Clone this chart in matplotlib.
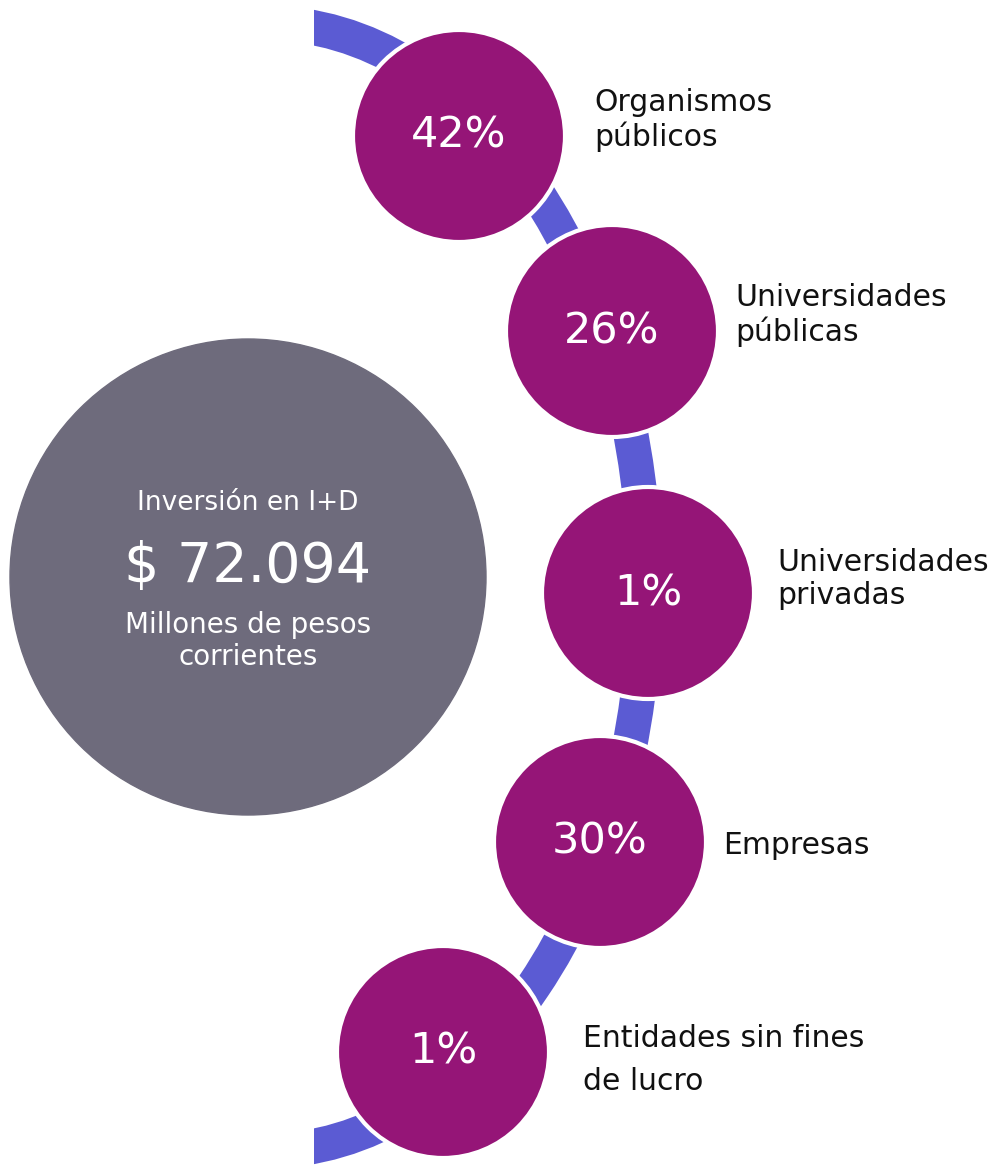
import matplotlib
matplotlib.use("Agg")
import matplotlib.pyplot as plt
from matplotlib.patches import Circle, Arc, Rectangle

# datos
categorias = ["Organismos\npúblicos", "Universidades\npúblicas", "Universidades\nprivadas",
              "Empresas", "Entidades sin fines\nde lucro"]
porcentajes = [42, 26, 1, 30, 1]
total = "$ 72.094"
titulo = "Inversión en I+D"
unidad = "Millones de pesos\ncorrientes"

# posiciones (pixeles) de los circulos y etiquetas
centros = [(459, 136), (612, 331), (648, 593), (600, 842), (443, 1052)]
radio = 106
label_pos = [(594, 120), (735, 315), (777, 579), (723, 846), (583, 1060)]

purpura = "#951577"
azul = "#5B5BD3"
gris = "#6E6B7C"

fig = plt.figure(figsize=(9.93, 11.65), dpi=100)
ax = fig.add_axes([0, 0, 1, 1])
ax.set_xlim(0, 993)
ax.set_ylim(1165, 0)
ax.set_aspect("equal")
ax.axis("off")

# arco de fondo (elipse recortada a la izquierda)
arco = Arc((265, 587), 760, 1128, theta1=-90, theta2=90, color=azul,
           lw=35 * 72 / 100, capstyle="butt", zorder=1)
ax.add_patch(arco)
clip = Rectangle((314, 0), 700, 1165, transform=ax.transData)
arco.set_clip_path(clip)

# circulo gris
ax.add_patch(Circle((248, 577), 238, color=gris, zorder=2))
ax.text(248, 503, titulo, color="white", fontsize=19, ha="center", va="center", zorder=3)
ax.text(248, 567, total, color="white", fontsize=40, ha="center", va="center", zorder=3)
ax.text(248, 641, unidad, color="white", fontsize=20, ha="center", va="center",
        linespacing=1.2, zorder=3)

for (x, y), p, cat, (lx, ly) in zip(centros, porcentajes, categorias, label_pos):
    ax.add_patch(Circle((x, y), radio, facecolor=purpura, edgecolor="white", lw=3, zorder=4))
    ax.text(x, y, f"{p}%", color="white", fontsize=31, ha="center", va="center", zorder=5)
    esp = 1.65 if cat.startswith("Entidades") else 1.2
    ax.text(lx, ly, cat, color="#111111", fontsize=21.5, ha="left", va="center",
            linespacing=esp, zorder=5)

fig.savefig("out.png", dpi=100)
